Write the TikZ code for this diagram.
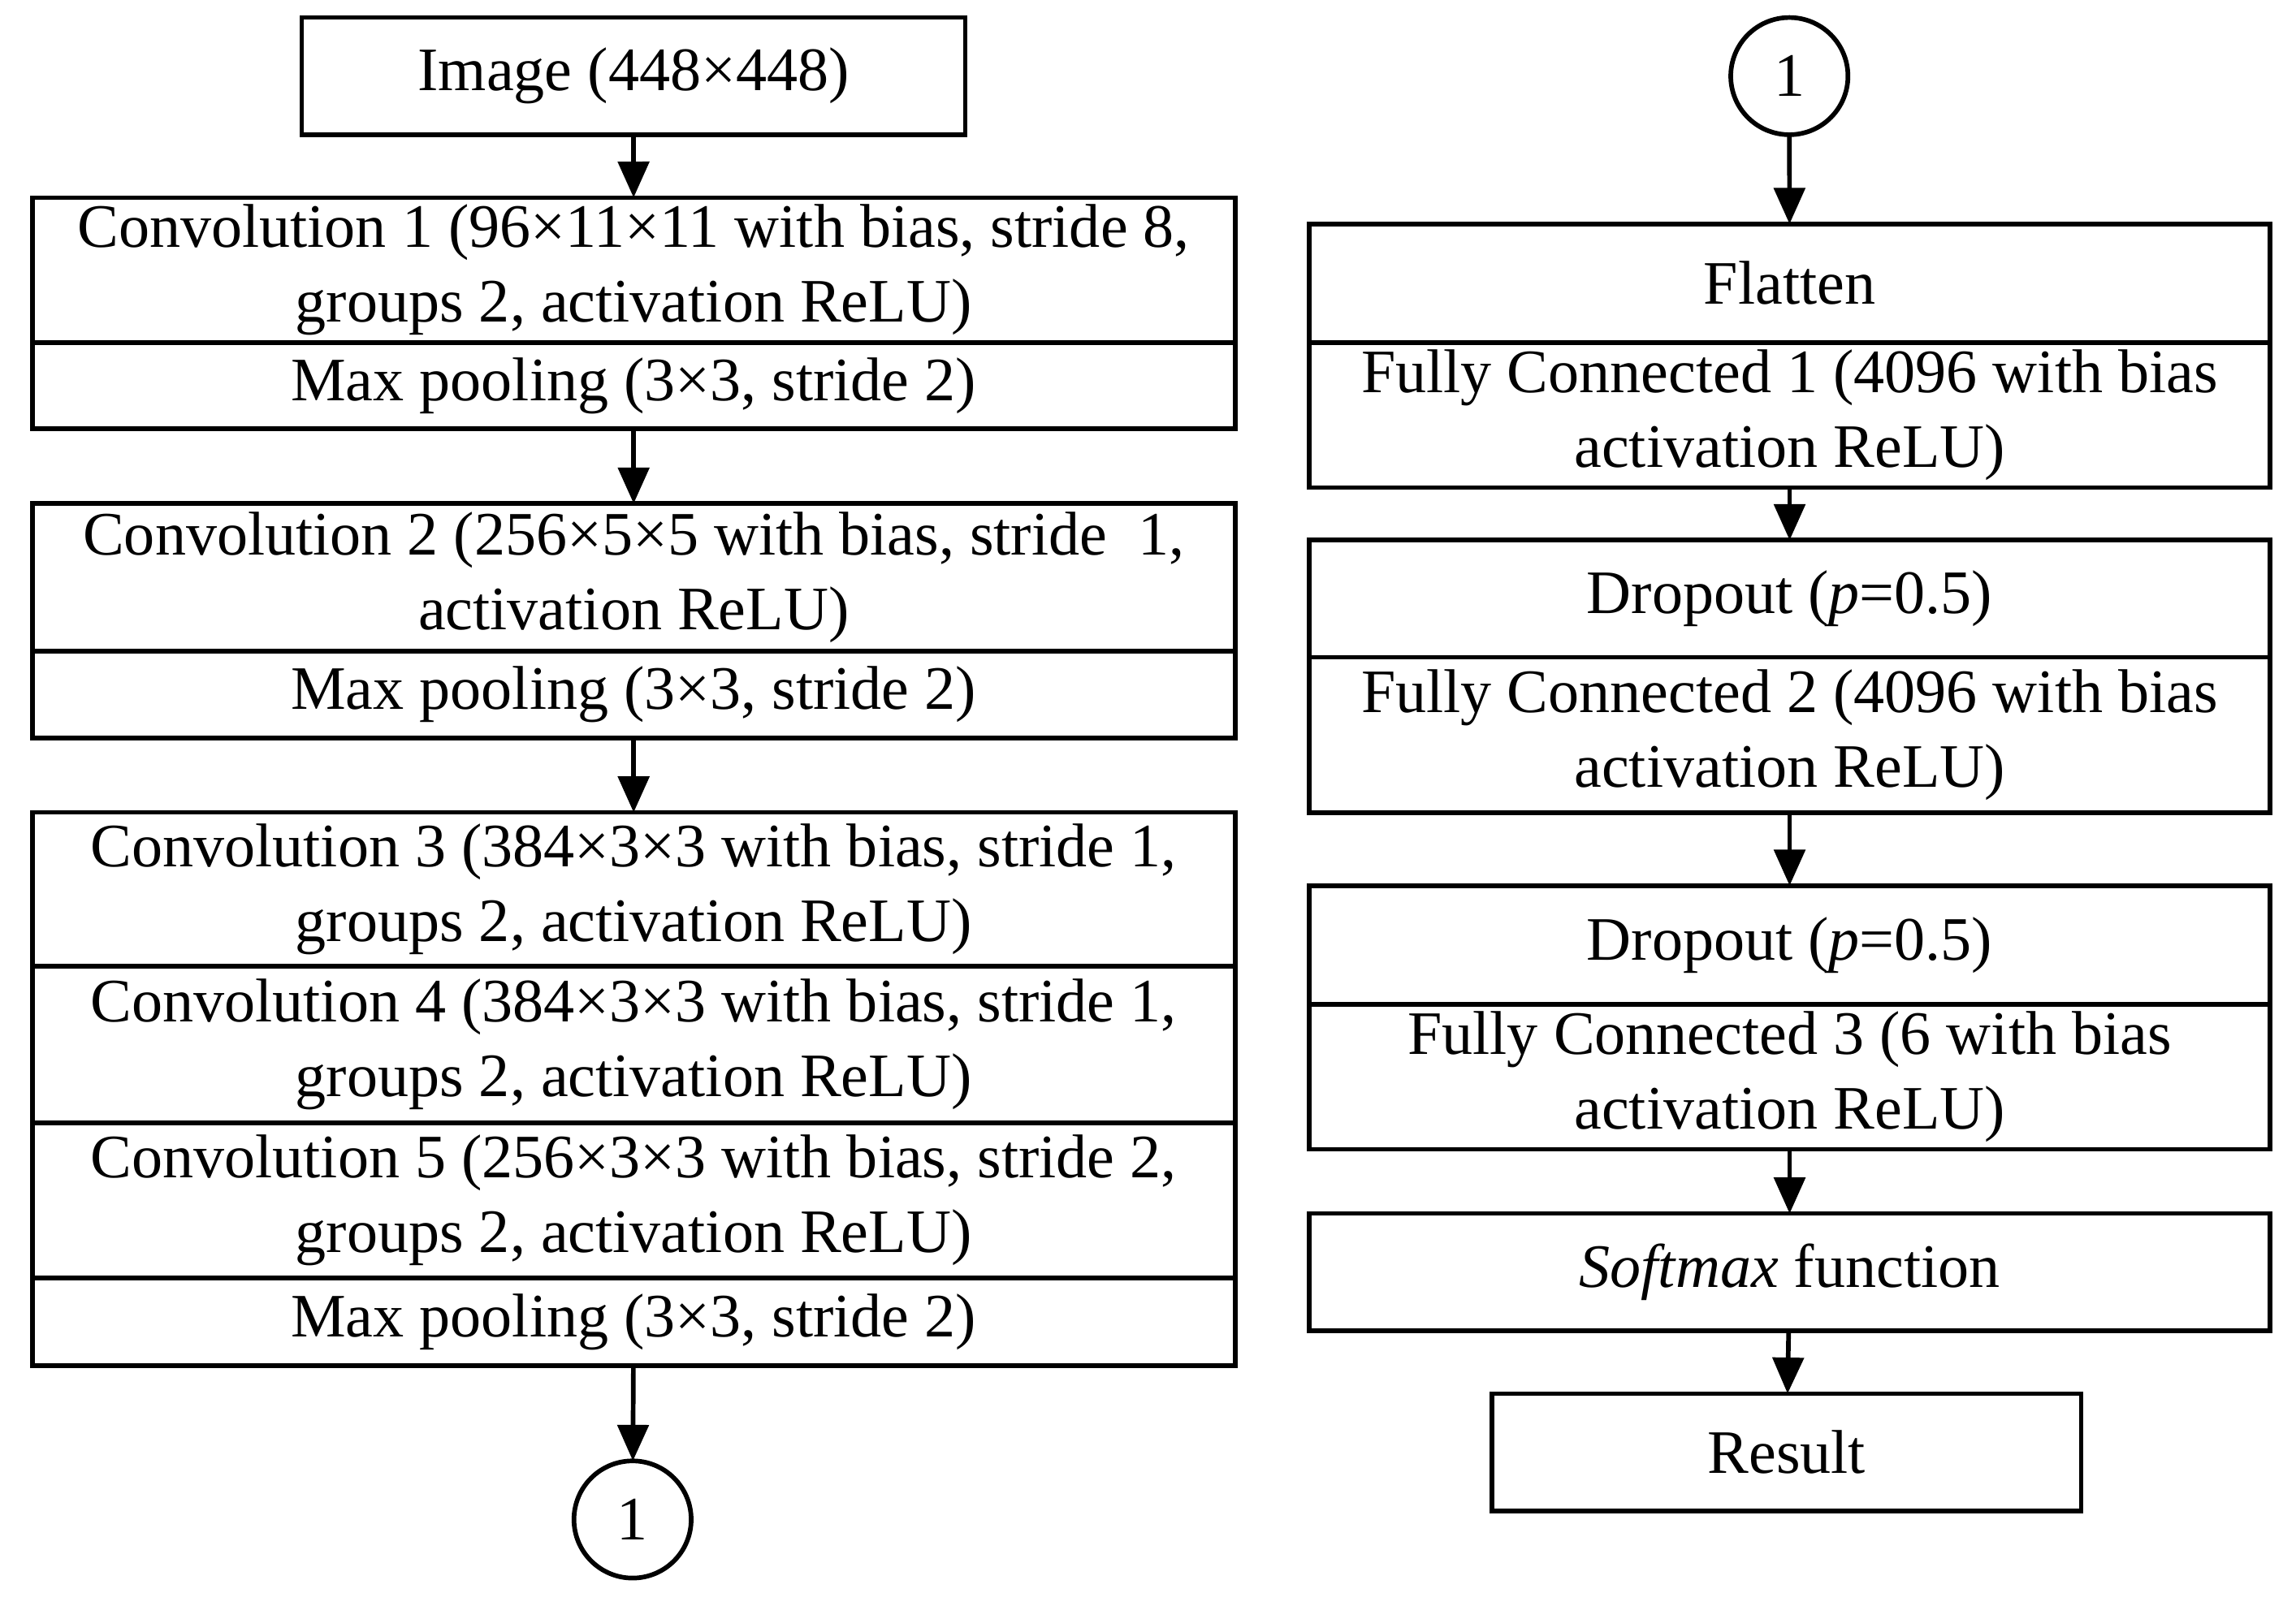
\documentclass[tikz,border=0pt]{standalone}
\usepackage{fontspec}
\setmainfont{Liberation Serif}
\usetikzlibrary{arrows.meta}
\begin{document}
\begin{tikzpicture}[x=0.01cm,y=-0.01cm,
  font=\fontsize{12}{14.5}\selectfont,
  every node/.style={inner sep=0pt,outer sep=0pt},
  box/.style={draw,line width=0.9pt,align=center,anchor=north west},
  arr/.style={line width=0.9pt,-{Triangle[length=7pt,width=6pt]}},
  circ/.style={draw,circle,line width=0.9pt,minimum size=0.8cm}]
\useasboundingbox (0,0) rectangle (1568,1097);
\newcommand\bx[6]{\node[box,minimum width=#3*0.01cm,minimum height=#4*0.01cm] (#5) at (#1,#2) {};
  \node at ($(#5.center)$) {};}
% left
\node[box,minimum width=4.53cm,minimum height=0.8cm] (img) at (206,12) {Image (448×448)};
\node[box,minimum width=8.21cm,minimum height=0.99cm] (c1) at (22,135) {Convolution 1 (96×11×11 with bias, stride 8,\\groups 2, activation ReLU)};
\node[box,minimum width=8.21cm,minimum height=0.59cm] (p1) at (22,234) {Max pooling (3×3, stride 2)};
\node[box,minimum width=8.21cm,minimum height=1.01cm] (c2) at (22,344) {Convolution 2 (256×5×5 with bias, stride~~1,\\activation ReLU)};
\node[box,minimum width=8.21cm,minimum height=0.59cm] (p2) at (22,445) {Max pooling (3×3, stride 2)};
\node[box,minimum width=8.21cm,minimum height=1.05cm] (c3) at (22,555) {Convolution 3 (384×3×3 with bias, stride 1,\\groups 2, activation ReLU)};
\node[box,minimum width=8.21cm,minimum height=1.07cm] (c4) at (22,660) {Convolution 4 (384×3×3 with bias, stride 1,\\groups 2, activation ReLU)};
\node[box,minimum width=8.21cm,minimum height=1.06cm] (c5) at (22,767) {Convolution 5 (256×3×3 with bias, stride 2,\\groups 2, activation ReLU)};
\node[box,minimum width=8.21cm,minimum height=0.60cm] (p3) at (22,873) {Max pooling (3×3, stride 2)};
\node[circ] (o1) at (432,1038) {1};
\draw[arr] (img) -- (c1);
\draw[arr] (p1) -- (c2);
\draw[arr] (p2) -- (c3);
\draw[arr] (p3) -- (o1);
% right
\node[circ] (o2) at (1222,52) {1};
\node[box,minimum width=6.56cm,minimum height=0.81cm] (fl) at (894,153) {Flatten};
\node[box,minimum width=6.56cm,minimum height=0.99cm] (f1) at (894,234) {Fully Connected 1 (4096 with bias\\activation ReLU)};
\node[box,minimum width=6.56cm,minimum height=0.80cm] (d1) at (894,369) {Dropout (\textit{p}=0.5)};
\node[box,minimum width=6.56cm,minimum height=1.06cm] (f2) at (894,449) {Fully Connected 2 (4096 with bias\\activation ReLU)};
\node[box,minimum width=6.56cm,minimum height=0.81cm] (d2) at (894,605) {Dropout (\textit{p}=0.5)};
\node[box,minimum width=6.56cm,minimum height=0.99cm] (f3) at (894,686) {Fully Connected 3 (6 with bias\\activation ReLU)};
\node[box,minimum width=6.56cm,minimum height=0.80cm] (sm) at (894,829) {\textit{Softmax} function};
\node[box,minimum width=4.02cm,minimum height=0.80cm] (res) at (1019,952) {Result};
\draw[arr] (o2) -- (fl);
\draw[arr] (f1) -- (d1);
\draw[arr] (f2) -- (d2);
\draw[arr] (f3) -- (sm);
\draw[arr] (sm) -- (res);
\end{tikzpicture}
\end{document}
